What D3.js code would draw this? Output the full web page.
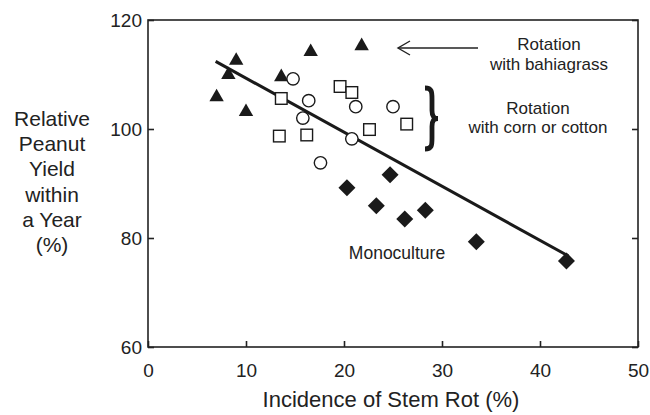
<!DOCTYPE html>
<html>
<head>
<meta charset="utf-8">
<script src="https://d3js.org/d3.v7.min.js"></script>
<style>
  body { margin: 0; background: #fff; }
  text { font-family: "Liberation Sans", Arial, sans-serif; fill: #222; }
</style>
</head>
<body>
<div id="chart"></div>
<script>
// stem rot incidence (%) vs relative yield (%)
const bahiaX = [7.0, 8.2, 9.0, 10.0, 13.6, 16.6, 21.8];
const bahiaY = [106.1, 110.2, 112.8, 103.4, 109.8, 114.4, 115.5];

const cornCircX = [14.8, 15.8, 16.4, 17.6, 20.8, 21.2, 25.0];
const cornCircY = [109.2, 102.0, 105.2, 93.8, 98.2, 104.1, 104.1];

const cottonSqX = [13.4, 13.6, 16.2, 19.6, 20.8, 22.6, 26.4];
const cottonSqY = [98.7, 105.6, 98.9, 107.8, 106.7, 99.9, 100.9];

const monoX = [20.3, 23.3, 24.7, 26.2, 28.3, 33.5, 42.7];
const monoY = [89.2, 85.9, 91.6, 83.5, 85.1, 79.3, 75.8];

// fitted line endpoints
const fitX = [6.9, 42.9];
const fitY = [112.4, 76.7];

const xTicks = [0, 10, 20, 30, 40, 50];
const yTicks = [60, 80, 100, 120];
const yLabelLines = ["Relative", "Peanut", "Yield", "within", "a Year", "(%)"];

const W = 650, H = 415;
const svg = d3.select("#chart").append("svg")
    .attr("width", W)
    .attr("height", H);

const x = d3.scaleLinear().domain([0, 50]).range([148, 638]);
const y = d3.scaleLinear().domain([60, 120]).range([347, 20]);

// frame
svg.append("rect")
    .attr("x", x(0)).attr("y", y(120))
    .attr("width", x(50) - x(0)).attr("height", y(60) - y(120))
    .attr("fill", "none").attr("stroke", "#222").attr("stroke-width", 1.6);

// axes, ticks point inward
const xAxis = svg.append("g")
    .attr("transform", "translate(0," + y(60) + ")")
    .call(d3.axisBottom(x).tickValues(xTicks).tickSizeInner(-6).tickSizeOuter(0).tickPadding(17));
const yAxis = svg.append("g")
    .attr("transform", "translate(" + x(0) + ",0)")
    .call(d3.axisLeft(y).tickValues(yTicks).tickSizeInner(-6).tickSizeOuter(0).tickPadding(6));
const yAxisR = svg.append("g")
    .attr("transform", "translate(" + x(50) + ",0)")
    .call(d3.axisRight(y).tickValues(yTicks).tickSizeInner(-6).tickSizeOuter(0).tickFormat(""));

[xAxis, yAxis, yAxisR].forEach(function(g) {
    g.select(".domain").remove();
    g.selectAll("line").attr("stroke", "#222").attr("stroke-width", 1.6);
    g.selectAll("text")
        .style("font-family", "'Liberation Sans', Arial, sans-serif")
        .style("font-size", "19px")
        .attr("fill", "#222");
});

// axis titles
svg.append("text")
    .attr("x", (x(0) + x(50)) / 2 - 2)
    .attr("y", 407)
    .attr("text-anchor", "middle")
    .style("font-size", "22px")
    .text("Incidence of Stem Rot (%)");

svg.append("g").selectAll("text")
    .data(yLabelLines)
    .enter().append("text")
    .attr("x", 52)
    .attr("y", function(d, i) { return 126 + i * 25.2; })
    .attr("text-anchor", "middle")
    .style("font-size", "21px")
    .text(function(d) { return d; });

// regression line
svg.append("line")
    .attr("x1", x(fitX[0])).attr("y1", y(fitY[0]))
    .attr("x2", x(fitX[1])).attr("y2", y(fitY[1]))
    .attr("stroke", "#1a1a1a").attr("stroke-width", 3);

function pts(xs, ys) {
    return xs.map(function(v, i) { return { x: v, y: ys[i] }; });
}

// triangles
svg.append("g").selectAll("path")
    .data(pts(bahiaX, bahiaY))
    .enter().append("path")
    .attr("transform", function(d) { return "translate(" + x(d.x) + "," + y(d.y) + ")"; })
    .attr("d", "M0,-7L7.2,5.6L-7.2,5.6Z")
    .attr("fill", "#1a1a1a");

// circles
svg.append("g").selectAll("circle")
    .data(pts(cornCircX, cornCircY))
    .enter().append("circle")
    .attr("cx", function(d) { return x(d.x); })
    .attr("cy", function(d) { return y(d.y); })
    .attr("r", 6.2)
    .attr("fill", "#fff").attr("stroke", "#1a1a1a").attr("stroke-width", 1.4);

// squares
svg.append("g").selectAll("rect")
    .data(pts(cottonSqX, cottonSqY))
    .enter().append("rect")
    .attr("x", function(d) { return x(d.x) - 5.8; })
    .attr("y", function(d) { return y(d.y) - 5.8; })
    .attr("width", 11.6).attr("height", 11.6)
    .attr("fill", "#fff").attr("stroke", "#1a1a1a").attr("stroke-width", 1.4);

// diamonds
svg.append("g").selectAll("path")
    .data(pts(monoX, monoY))
    .enter().append("path")
    .attr("transform", function(d) { return "translate(" + x(d.x) + "," + y(d.y) + ")"; })
    .attr("d", "M0,-8.5L8.5,0L0,8.5L-8.5,0Z")
    .attr("fill", "#1a1a1a");

// annotations
svg.append("line")
    .attr("x1", 478).attr("y1", 48).attr("x2", 398).attr("y2", 48)
    .attr("stroke", "#222").attr("stroke-width", 1.4);
svg.append("path")
    .attr("d", "M410,41L398,48L410,55")
    .attr("fill", "none").attr("stroke", "#222").attr("stroke-width", 1.4);

svg.append("text").attr("x", 549).attr("y", 50)
    .attr("text-anchor", "middle").style("font-size", "17px").text("Rotation");
svg.append("text").attr("x", 549).attr("y", 70)
    .attr("text-anchor", "middle").style("font-size", "17px").text("with bahiagrass");

// brace
const bx = 425, bt = 88, bb = 149, bm = (bt + bb) / 2;
svg.append("path")
    .attr("d", "M" + bx + "," + bt +
        " C" + (bx + 7) + "," + bt + " " + (bx + 7) + "," + (bt + 4) + " " + (bx + 7) + "," + (bt + 11) +
        " L" + (bx + 7) + "," + (bm - 8) +
        " C" + (bx + 7) + "," + (bm - 2) + " " + (bx + 9) + "," + bm + " " + (bx + 13) + "," + bm +
        " C" + (bx + 9) + "," + bm + " " + (bx + 7) + "," + (bm + 2) + " " + (bx + 7) + "," + (bm + 8) +
        " L" + (bx + 7) + "," + (bb - 11) +
        " C" + (bx + 7) + "," + (bb - 4) + " " + (bx + 7) + "," + bb + " " + bx + "," + bb)
    .attr("fill", "none").attr("stroke", "#1a1a1a").attr("stroke-width", 4.8);

svg.append("text").attr("x", 538).attr("y", 114)
    .attr("text-anchor", "middle").style("font-size", "17px").text("Rotation");
svg.append("text").attr("x", 538).attr("y", 133)
    .attr("text-anchor", "middle").style("font-size", "17px").text("with corn or cotton");

svg.append("text").attr("x", 397).attr("y", 259)
    .attr("text-anchor", "middle").style("font-size", "17.5px").text("Monoculture");
</script>
</body>
</html>
